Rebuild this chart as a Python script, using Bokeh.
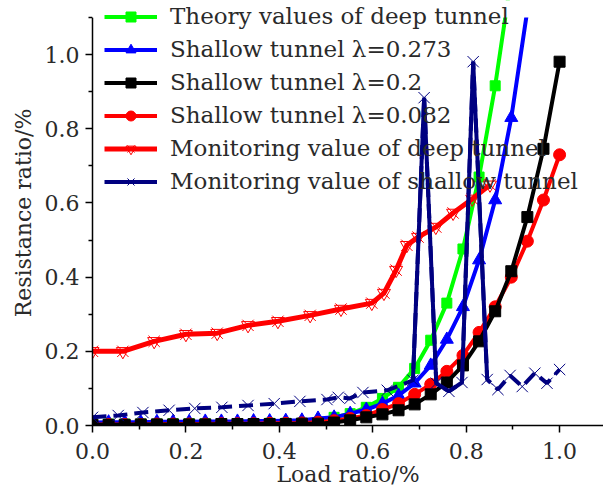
from bokeh.plotting import figure
from bokeh.models import (Legend, LegendItem, Range1d, FixedTicker,
                          NumeralTickFormatter, BoxAnnotation)
from bokeh.embed import file_html
from bokeh.resources import INLINE

FONT = "DejaVu Serif"
TXT = "#2a2a2a"
FS = "23px"
FS_AX = "22px"

# ---------------- data ----------------
x_theory = [0.0, 0.0345, 0.0690, 0.1034, 0.1379, 0.1724, 0.2069, 0.2414, 0.2759, 0.3103,
            0.3448, 0.3793, 0.4138, 0.4483, 0.4828, 0.5172, 0.5517, 0.5862, 0.6207, 0.6552,
            0.6897, 0.7241, 0.7586, 0.7931, 0.8276, 0.8621, 0.8966, 0.9310, 0.9655, 1.0]

y_deep_theory = [0.004, 0.004, 0.004, 0.004, 0.004, 0.005, 0.005, 0.005, 0.005, 0.005,
                 0.005, 0.006, 0.006, 0.006, 0.008, 0.022, 0.032, 0.049, 0.073, 0.103,
                 0.154, 0.23, 0.33, 0.476, 0.67, 0.916, 1.21]

y_lam_0273 = [0.008, 0.009, 0.009, 0.009, 0.010, 0.010, 0.010, 0.011, 0.011, 0.011,
              0.012, 0.012, 0.013, 0.014, 0.019, 0.022, 0.032, 0.043, 0.059, 0.081,
              0.114, 0.162, 0.232, 0.32, 0.446, 0.608, 0.83, 1.12]

y_lam_02 = [0.002, 0.002, 0.002, 0.003, 0.003, 0.003, 0.003, 0.003, 0.004, 0.004,
            0.004, 0.004, 0.004, 0.005, 0.005, 0.008, 0.014, 0.022, 0.030, 0.041,
            0.057, 0.084, 0.116, 0.162, 0.227, 0.308, 0.416, 0.562, 0.746, 0.981]

y_lam_0082 = [0.003, 0.003, 0.003, 0.003, 0.004, 0.004, 0.004, 0.004, 0.005, 0.005,
              0.005, 0.006, 0.006, 0.007, 0.009, 0.013, 0.019, 0.027, 0.043, 0.059,
              0.084, 0.111, 0.146, 0.189, 0.251, 0.32, 0.40, 0.497, 0.608, 0.73]

x_mon_deep = [0.0, 0.065, 0.132, 0.2, 0.267, 0.333, 0.397, 0.466, 0.532, 0.598,
              0.624, 0.65, 0.673, 0.697, 0.735, 0.772, 0.813, 0.851]
y_mon_deep = [0.2, 0.2, 0.227, 0.246, 0.249, 0.27, 0.281, 0.297, 0.314, 0.33,
              0.357, 0.419, 0.486, 0.508, 0.535, 0.573, 0.611, 0.649]

x_mon_shallow = [0.0, 0.055, 0.108, 0.164, 0.219, 0.277, 0.333, 0.389, 0.444, 0.502,
                 0.526, 0.551, 0.579, 0.631, 0.686, 0.71, 0.736, 0.763, 0.791, 0.815,
                 0.845, 0.868, 0.894, 0.92, 0.947, 0.973, 1.0]
y_mon_shallow = [0.022, 0.027, 0.035, 0.041, 0.046, 0.049, 0.054, 0.059, 0.065, 0.07,
                 0.076, 0.073, 0.089, 0.095, 0.122, 0.884, 0.114, 0.092, 0.116, 0.981,
                 0.124, 0.097, 0.135, 0.105, 0.141, 0.114, 0.151]
spike_start, spike_end = 14, 21

labels = ["Theory values of deep tunnel",
          "Shallow tunnel \u03bb=0.273",
          "Shallow tunnel \u03bb=0.2",
          "Shallow tunnel \u03bb=0.082",
          "Monitoring value of deep tunnel",
          "Monitoring value of shallow tunnel"]

x_major = [0.0, 0.2, 0.4, 0.6, 0.8, 1.0]
x_minor = [0.1, 0.3, 0.5, 0.7, 0.9]
y_major = [0.0, 0.2, 0.4, 0.6, 0.8, 1.0]
y_minor = [0.1, 0.3, 0.5, 0.7, 0.9, 1.1]
y_axis_top = 1.1
x_end, y_end = 1.094, 1.146

# ---------------- figure ----------------
p = figure(width=603, height=495, output_backend="svg", toolbar_location=None,
           x_range=Range1d(0, x_end), y_range=Range1d(0, y_end),
           min_border_left=92, min_border_right=0, min_border_top=0,
           min_border_bottom=70)
p.outline_line_color = None
p.xgrid.visible = False
p.ygrid.visible = False
p.background_fill_color = "white"

GREEN, BLUE, BLACK, RED, NAVY = "#00ff00", "#0000ff", "#000000", "#ff0000", "#000080"

g_l = p.line(x_theory[:len(y_deep_theory)], y_deep_theory, color=GREEN, line_width=4)
g_m = p.scatter(x_theory[:len(y_deep_theory)], y_deep_theory, marker="square", size=10, color=GREEN)

b_l = p.line(x_theory[:len(y_lam_0273)], y_lam_0273, color=BLUE, line_width=4)
b_m = p.scatter(x_theory[:len(y_lam_0273)], y_lam_0273, marker="triangle", size=13, color=BLUE)

r_l = p.line(x_theory, y_lam_0082, color=RED, line_width=4)
r_m = p.scatter(x_theory, y_lam_0082, marker="circle", size=12, color=RED)

k_l = p.line(x_theory, y_lam_02, color=BLACK, line_width=4)
k_m = p.scatter(x_theory, y_lam_02, marker="square", size=11, color=BLACK)

d_l = p.line(x_mon_deep, y_mon_deep, color=RED, line_width=5)
d_m1 = p.scatter(x_mon_deep, y_mon_deep, marker="x", size=16, line_color=RED, line_width=1)
d_m2 = p.scatter(x_mon_deep, y_mon_deep, marker="inverted_triangle", size=13,
                 line_color=RED, fill_color=None, line_width=1)

s_l = p.line(x_mon_shallow, y_mon_shallow, color=NAVY, line_width=4, line_dash="14 7")
s_sp = p.line(x_mon_shallow[spike_start:spike_end], y_mon_shallow[spike_start:spike_end],
              color=NAVY, line_width=4)
s_m = p.scatter(x_mon_shallow, y_mon_shallow, marker="x", size=16, line_color=NAVY, line_width=1)

# hide everything drawn above the end of the y axis (the axis stops at 1.1)
p.add_layout(BoxAnnotation(bottom=y_axis_top, top=y_end + 0.1, left=-0.05, right=x_end + 0.05,
                           fill_color="white", fill_alpha=1.0, line_alpha=0,
                           level="annotation"))

legend = Legend(items=[
    LegendItem(label=labels[0], renderers=[g_l, g_m]),
    LegendItem(label=labels[1], renderers=[b_l, b_m]),
    LegendItem(label=labels[2], renderers=[k_l, k_m]),
    LegendItem(label=labels[3], renderers=[r_l, r_m]),
    LegendItem(label=labels[4], renderers=[d_l, d_m1, d_m2]),
    LegendItem(label=labels[5], renderers=[s_sp, s_m]),
], location=(12, 231), background_fill_alpha=0, border_line_alpha=0,
    padding=0, margin=0, spacing=7, label_height=25, glyph_height=25,
    glyph_width=53, label_standoff=13, label_text_font=FONT,
    label_text_font_size=FS, label_text_color=TXT)
p.add_layout(legend, "center")

for ax, maj, mnr in ((p.xaxis[0], x_major, x_minor), (p.yaxis[0], y_major, y_minor)):
    ax.ticker = FixedTicker(ticks=maj, minor_ticks=mnr)
    ax.formatter = NumeralTickFormatter(format="0.0")
    ax.axis_line_width = 1.5
    ax.axis_line_color = "black"
    ax.major_tick_line_width = 1.5
    ax.minor_tick_line_width = 1.5
    ax.major_tick_in = 0
    ax.major_tick_out = 7
    ax.minor_tick_in = 0
    ax.minor_tick_out = 4
    ax.major_label_text_font = FONT
    ax.major_label_text_font_size = FS_AX
    ax.major_label_text_color = TXT
    ax.axis_label_text_font = FONT
    ax.axis_label_text_font_size = FS_AX
    ax.axis_label_text_font_style = "normal"
    ax.axis_label_text_color = TXT

p.yaxis.bounds = (0, y_axis_top)
p.xaxis.axis_label = "Load ratio/%"
p.yaxis.axis_label = "Resistance ratio/%"
p.xaxis.major_label_standoff = 10
p.yaxis.major_label_standoff = 6
p.xaxis.axis_label_standoff = 0
p.yaxis.axis_label_standoff = 6

open("out.html", "w").write(file_html(p, INLINE))
